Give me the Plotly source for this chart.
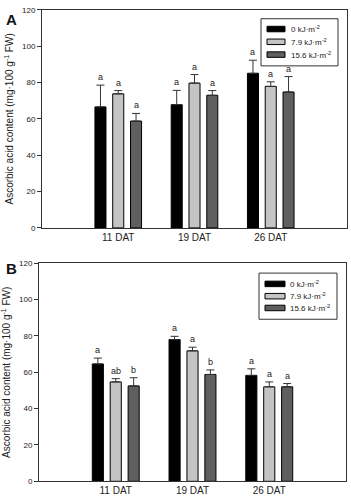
import plotly.graph_objects as go

categories = ["11 DAT", "19 DAT", "26 DAT"]
cat_pos = [1, 2, 3]
series_names = ["0 kJ·m<sup>-2</sup>", "7.9 kJ·m<sup>-2</sup>", "15.6 kJ·m<sup>-2</sup>"]
colors = ["#000000", "#c4c4c4", "#5f5f5f"]

# Panel A
a_vals = [[66.6, 67.8, 85.1], [73.8, 79.7, 77.9], [58.8, 73.0, 74.8]]
a_err = [[12.0, 7.9, 7.2], [1.8, 4.7, 2.5], [4.2, 2.6, 8.5]]
a_letters = [["a", "a", "a"], ["a", "a", "a"], ["a", "a", "a"]]

# Panel B
b_vals = [[64.6, 78.0, 58.3], [54.7, 71.8, 52.0], [52.5, 58.8, 52.0]]
b_err = [[3.2, 1.8, 3.6], [1.8, 2.0, 2.7], [4.5, 2.5, 1.8]]
b_letters = [["a", "a", "a"], ["ab", "a", "a"], ["b", "b", "a"]]

y_ticks = [0, 20, 40, 60, 80, 100, 120]

H = 503
W = 351
def py(px):
    return 1 - px / H
def pxx(px):
    return px / W

fig = go.Figure()
BARGAP = 0.3
slot = (1 - BARGAP) / 3
offsets = [-slot, 0, slot]

panels = [
    (a_vals, a_err, a_letters, "x", "y"),
    (b_vals, b_err, b_letters, "x2", "y2"),
]
annotations = []
for vals, errs, letters, xa, ya in panels:
    for i in range(3):
        fig.add_trace(go.Bar(
            x=cat_pos, y=vals[i], name=series_names[i], xaxis=xa, yaxis=ya,
            showlegend=False,
            marker=dict(color=colors[i], line=dict(color="#000000", width=1)),
            error_y=dict(type="data", symmetric=False, array=errs[i],
                         arrayminus=[0] * 3, color="#333333", thickness=1, width=4),
        ))
        for j in range(3):
            annotations.append(dict(
                x=cat_pos[j] + offsets[i], y=vals[i][j] + errs[i][j],
                xref=xa, yref=ya, text=letters[i][j], showarrow=False,
                yanchor="bottom", yshift=1,
                font=dict(size=9, color="#222222", family="Arial, Liberation Sans"),
            ))

# Custom legends (box + swatches + labels), in pixel-derived paper coords
shapes = []
legend_specs = [
    # box x0,x1,y0,y1 ; swatch x0,x1 ; row centers ; text x
    ((261, 338, 15, 63), (267, 285), (25.5, 38.5, 51.5), 289),
    ((259, 337, 274, 321), (265, 285), (285, 297.5, 309.5), 288),
]
for (bx0, bx1, by0, by1), (sx0, sx1), rows, tx in legend_specs:
    shapes.append(dict(type="rect", xref="paper", yref="paper",
                       x0=pxx(bx0), x1=pxx(bx1), y0=py(by1), y1=py(by0),
                       line=dict(color="#333333", width=1), fillcolor="white", layer="above"))
    for i, rc in enumerate(rows):
        shapes.append(dict(type="rect", xref="paper", yref="paper",
                           x0=pxx(sx0), x1=pxx(sx1), y0=py(rc + 2.8), y1=py(rc - 2.8),
                           line=dict(color="#000000", width=1), fillcolor=colors[i],
                           layer="above"))
        annotations.append(dict(x=pxx(tx), y=py(rc), xref="paper", yref="paper",
                                text=series_names[i], showarrow=False,
                                xanchor="left", yanchor="middle",
                                font=dict(size=8, color="#222222")))

axis_common = dict(showline=True, linecolor="#333333", linewidth=1, mirror=True,
                   showgrid=False, zeroline=False)
ytitle = "Ascorbic acid content (mg·100 g<sup>-1</sup> FW)"
fig.update_layout(
    width=W, height=H,
    margin=dict(l=0, r=0, t=0, b=0),
    paper_bgcolor="white", plot_bgcolor="white",
    barmode="group", bargap=BARGAP, bargroupgap=0.38,
    font=dict(family="Arial, Liberation Sans", color="#222222"),
    showlegend=False,
    xaxis=dict(domain=[pxx(42), pxx(347)], range=[0, 4], tickvals=cat_pos,
               ticktext=categories, ticks="", tickfont=dict(size=10), anchor="y",
               **axis_common),
    yaxis=dict(domain=[py(228), py(6)], range=[0, 120], tickvals=y_ticks,
               ticks="outside", ticklen=4, tickcolor="#333333", tickfont=dict(size=8),
               anchor="x", title=dict(text=ytitle, font=dict(size=10), standoff=6),
               **axis_common),
    xaxis2=dict(domain=[pxx(39), pxx(346)], range=[0, 4], tickvals=cat_pos,
                ticktext=categories, ticks="", tickfont=dict(size=10), anchor="y2",
                **axis_common),
    yaxis2=dict(domain=[py(486), py(264)], range=[0, 120], tickvals=y_ticks,
                ticks="outside", ticklen=4, tickcolor="#333333", tickfont=dict(size=8),
                anchor="x2", title=dict(text=ytitle, font=dict(size=10), standoff=6),
                **axis_common),
)
annotations.append(dict(x=pxx(4), y=py(5), xref="paper", yref="paper", text="<b>A</b>",
                        showarrow=False, xanchor="left", yanchor="top",
                        font=dict(size=15, color="#111111")))
annotations.append(dict(x=pxx(4), y=py(259), xref="paper", yref="paper", text="<b>B</b>",
                        showarrow=False, xanchor="left", yanchor="top",
                        font=dict(size=15, color="#111111")))
fig.update_layout(annotations=annotations, shapes=shapes)

fig.write_html("out.html")
